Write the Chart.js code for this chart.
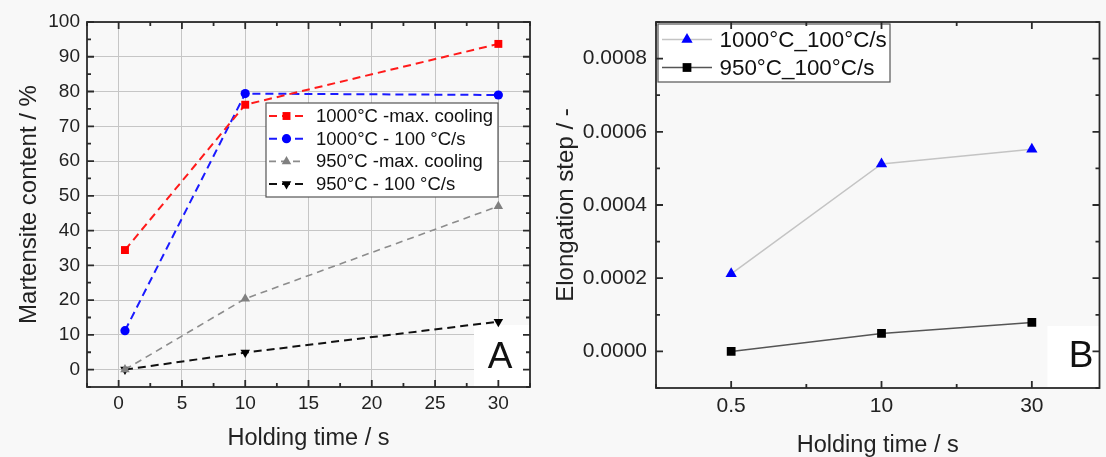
<!DOCTYPE html>
<html>
<head>
<meta charset="utf-8">
<script src="https://cdn.jsdelivr.net/npm/chart.js@4.4.0/dist/chart.umd.min.js"></script>
<style>
  html, body { margin: 0; padding: 0; background: #f8f8f8; overflow: hidden; }
  .panel { position: absolute; top: 0; height: 457px; }
  #wrapA { left: 0; width: 550px; }
  #wrapB { left: 550px; width: 556px; }
</style>
</head>
<body>
<div class="panel" id="wrapA"><canvas id="chartA"></canvas></div>
<div class="panel" id="wrapB"><canvas id="chartB"></canvas></div>
<script>
// ---- panel A: martensite content ----
const holdTimesA = [0.5, 10, 30];
const red1000Max = [34.4, 76.2, 93.7];
const blue1000Rate = [11.2, 79.4, 79.0];
const gray950Max = [0, 20.4, 47.0];
const black950Rate = [0, 4.9, 13.8];
const xTicksA = [0, 5, 10, 15, 20, 25, 30];
const yTicksA = [0, 10, 20, 30, 40, 50, 60, 70, 80, 90, 100];

// ---- panel B: elongation step ----
const holdTimesB = ['0.5', '10', '30'];
const elong1000 = [0.000212, 0.000512, 0.000552];
const elong950 = [0, 0.000049, 0.000079];
const yTicksB = [0, 0.0002, 0.0004, 0.0006, 0.0008];

Chart.defaults.font.family = '"Liberation Sans", Arial, sans-serif';
Chart.defaults.color = '#222';

function toPoints(xs, ys) {
  return ys.map((v, i) => ({ x: xs[i], y: v }));
}

function drawMarker(ctx, style, rot, r, x, y, color) {
  ctx.save();
  ctx.fillStyle = color;
  ctx.translate(x, y);
  ctx.rotate(rot * Math.PI / 180);
  ctx.beginPath();
  if (style === 'rect') {
    const s = r * Math.SQRT1_2;
    ctx.rect(-s, -s, 2 * s, 2 * s);
  } else if (style === 'circle') {
    ctx.arc(0, 0, r, 0, Math.PI * 2);
  } else {
    for (let k = 0; k < 3; k++) {
      const a = k * 2 * Math.PI / 3;
      ctx[k ? 'lineTo' : 'moveTo'](Math.sin(a) * r, -Math.cos(a) * r);
    }
    ctx.closePath();
  }
  ctx.fill();
  ctx.restore();
}

// white letter box, legend, inward ticks and frame
const decor = {
  id: 'decor',
  beforeDatasetsDraw(chart, args, o) {
    const { ctx, chartArea: a } = chart;
    ctx.save();
    ctx.fillStyle = '#fff';
    ctx.fillRect(a.right - o.box.w, a.bottom - o.box.h, o.box.w, o.box.h);
    ctx.fillStyle = '#111';
    ctx.font = '37px "Liberation Sans", Arial, sans-serif';
    ctx.textAlign = 'center';
    ctx.textBaseline = 'alphabetic';
    ctx.fillText(o.box.letter, o.box.lx, o.box.ly);
    ctx.restore();
  },
  afterDatasetsDraw(chart, args, o) {
    const { ctx } = chart;
    const L = o.legend;
    ctx.save();
    ctx.fillStyle = '#fff';
    ctx.fillRect(L.x, L.y, L.w, L.h);
    ctx.strokeStyle = '#555';
    ctx.lineWidth = 1.2;
    ctx.strokeRect(L.x, L.y, L.w, L.h);
    chart.data.datasets.forEach((ds, i) => {
      const cy = L.row0 + i * L.rowH;
      ctx.save();
      ctx.strokeStyle = ds.borderColor;
      ctx.lineWidth = ds.borderWidth;
      ctx.setLineDash(ds.borderDash || []);
      ctx.beginPath();
      ctx.moveTo(L.lineX0, cy);
      ctx.lineTo(L.lineX1, cy);
      ctx.stroke();
      ctx.restore();
      drawMarker(ctx, ds.pointStyle, ds.pointRotation || 0, ds.pointRadius,
        (L.lineX0 + L.lineX1) / 2, cy, ds.pointBackgroundColor);
      ctx.fillStyle = '#111';
      ctx.font = L.fontSize + 'px "Liberation Sans", Arial, sans-serif';
      ctx.textAlign = 'left';
      ctx.textBaseline = 'middle';
      ctx.fillText(ds.label, L.textX, cy + 1);
    });
    ctx.restore();
  },
  afterDraw(chart, args, o) {
    const { ctx, chartArea: a, scales: { x, y } } = chart;
    ctx.save();
    ctx.strokeStyle = '#2a2a2a';
    ctx.lineWidth = 1.8;
    ctx.beginPath();
    const mids = arr => arr.slice(1).map((v, i) => (v + arr[i]) / 2);
    const xMinor = mids(o.xMajor).concat([o.xMajor[0] - (o.xMajor[1] - o.xMajor[0]) / 2,
      o.xMajor[o.xMajor.length - 1] + (o.xMajor[1] - o.xMajor[0]) / 2]);
    const yMinor = mids(o.yMajor).concat([o.yMajor[0] - (o.yMajor[1] - o.yMajor[0]) / 2,
      o.yMajor[o.yMajor.length - 1] + (o.yMajor[1] - o.yMajor[0]) / 2]);
    const xt = (v, len) => {
      const p = x.getPixelForValue(v);
      if (p < a.left - 0.5 || p > a.right + 0.5) return;
      ctx.moveTo(p, a.bottom); ctx.lineTo(p, a.bottom - len);
      ctx.moveTo(p, a.top); ctx.lineTo(p, a.top + len);
    };
    const yt = (v, len) => {
      const p = y.getPixelForValue(v);
      if (p < a.top - 0.5 || p > a.bottom + 0.5) return;
      ctx.moveTo(a.left, p); ctx.lineTo(a.left + len, p);
      ctx.moveTo(a.right, p); ctx.lineTo(a.right - len, p);
    };
    o.xMajor.forEach(v => xt(v, 7));
    xMinor.forEach(v => xt(v, 4));
    o.yMajor.forEach(v => yt(v, 7));
    yMinor.forEach(v => yt(v, 4));
    ctx.stroke();
    ctx.strokeRect(a.left, a.top, a.right - a.left, a.bottom - a.top);
    ctx.restore();
  }
};

const dashA = [8, 5];

new Chart(document.getElementById('chartA'), {
  type: 'line',
  plugins: [decor],
  data: {
    datasets: [
      { label: '1000°C -max. cooling', data: toPoints(holdTimesA, red1000Max),
        borderColor: '#ff1a1a', borderWidth: 2, borderDash: dashA,
        pointStyle: 'rect', pointRadius: 5.6, pointBackgroundColor: '#ff0000', pointBorderWidth: 0 },
      { label: '1000°C - 100 °C/s', data: toPoints(holdTimesA, blue1000Rate),
        borderColor: '#1a1aff', borderWidth: 2, borderDash: dashA,
        pointStyle: 'circle', pointRadius: 4.6, pointBackgroundColor: '#0000ff', pointBorderWidth: 0 },
      { label: '950°C -max. cooling', data: toPoints(holdTimesA, gray950Max),
        borderColor: '#8c8c8c', borderWidth: 1.6, borderDash: [7, 5],
        pointStyle: 'triangle', pointRadius: 5.5, pointBackgroundColor: '#808080', pointBorderWidth: 0 },
      { label: '950°C - 100 °C/s', data: toPoints(holdTimesA, black950Rate),
        borderColor: '#111', borderWidth: 2, borderDash: dashA,
        pointStyle: 'triangle', pointRotation: 180, pointRadius: 5.5, pointBackgroundColor: '#000', pointBorderWidth: 0 }
    ]
  },
  options: {
    responsive: true,
    maintainAspectRatio: false,
    animation: false,
    layout: { padding: { top: 22, right: 20, left: 0, bottom: 0 } },
    plugins: {
      legend: { display: false },
      tooltip: { enabled: false },
      decor: {
        xMajor: xTicksA, yMajor: yTicksA,
        box: { w: 56, h: 62, letter: 'A', lx: 500, ly: 368 },
        legend: { x: 266, y: 103, w: 232, h: 94, row0: 116, rowH: 22.7,
          lineX0: 269, lineX1: 304, textX: 316, fontSize: 18.5 }
      }
    },
    scales: {
      x: {
        type: 'linear', min: -2.5, max: 32.5,
        afterBuildTicks: s => { s.ticks = xTicksA.map(v => ({ value: v })); },
        afterFit: s => { s.height = 70; s.paddingLeft = 0; s.paddingRight = 0; },
        grid: { color: '#c6c6c6', lineWidth: 1, drawTicks: false },
        border: { display: false },
        ticks: { padding: 5, maxRotation: 0, autoSkip: false, font: { size: 19 }, color: '#222' },
        title: { display: true, text: 'Holding time / s', color: '#222',
          font: { size: 23.5, lineHeight: 1 }, padding: { top: 0, bottom: 7 } }
      },
      y: {
        type: 'linear', min: -5, max: 100,
        afterBuildTicks: s => { s.ticks = yTicksA.map(v => ({ value: v })); },
        afterFit: s => { s.width = 87; },
        grid: { color: '#c6c6c6', lineWidth: 1, drawTicks: false },
        border: { display: false },
        ticks: { padding: 7, autoSkip: false, font: { size: 19 }, color: '#222' },
        title: { display: true, text: 'Martensite content / %', color: '#222',
          font: { size: 24, lineHeight: 1 }, padding: { top: 17, bottom: 0 } }
      }
    }
  }
});

const xIdxB = holdTimesB.map((t, i) => i);

new Chart(document.getElementById('chartB'), {
  type: 'line',
  plugins: [decor],
  data: {
    datasets: [
      { label: '1000°C_100°C/s', data: toPoints(xIdxB, elong1000),
        borderColor: '#c4c4c4', borderWidth: 1.5,
        pointStyle: 'triangle', pointRadius: 6.5, pointBackgroundColor: '#0000ff', pointBorderWidth: 0 },
      { label: '950°C_100°C/s', data: toPoints(xIdxB, elong950),
        borderColor: '#555', borderWidth: 1.5,
        pointStyle: 'rect', pointRadius: 6.2, pointBackgroundColor: '#000', pointBorderWidth: 0 }
    ]
  },
  options: {
    responsive: true,
    maintainAspectRatio: false,
    animation: false,
    layout: { padding: { top: 22, right: 1, left: 0, bottom: 0 } },
    plugins: {
      legend: { display: false },
      tooltip: { enabled: false },
      decor: {
        xMajor: xIdxB, yMajor: yTicksB,
        box: { w: 52, h: 62, letter: 'B', lx: 531, ly: 367 },
        legend: { x: 108, y: 24, w: 232, h: 58, row0: 39.5, rowH: 28,
          lineX0: 112, lineX1: 162, textX: 169.5, fontSize: 22.4 }
      }
    },
    scales: {
      x: {
        type: 'linear', min: -0.5, max: 2.45,
        afterBuildTicks: s => { s.ticks = xIdxB.map(v => ({ value: v })); },
        afterFit: s => { s.height = 69; s.paddingLeft = 0; s.paddingRight = 0; },
        grid: { display: false, drawTicks: false },
        border: { display: false },
        ticks: { padding: 6, maxRotation: 0, autoSkip: false, font: { size: 21 }, color: '#222',
          callback: v => holdTimesB[v] },
        title: { display: true, text: 'Holding time / s', color: '#222',
          font: { size: 23.5, lineHeight: 1 }, padding: { top: 0, bottom: 0 } }
      },
      y: {
        type: 'linear', min: -0.0001, max: 0.0009,
        afterBuildTicks: s => { s.ticks = yTicksB.map(v => ({ value: v })); },
        afterFit: s => { s.width = 106; },
        grid: { display: false, drawTicks: false },
        border: { display: false },
        ticks: { padding: 9, autoSkip: false, font: { size: 21 }, color: '#222',
          callback: v => v.toFixed(4) },
        title: { display: true, text: 'Elongation step / -', color: '#222',
          font: { size: 24, lineHeight: 1 }, padding: { top: 4, bottom: 0 } }
      }
    }
  }
});
</script>
</body>
</html>
